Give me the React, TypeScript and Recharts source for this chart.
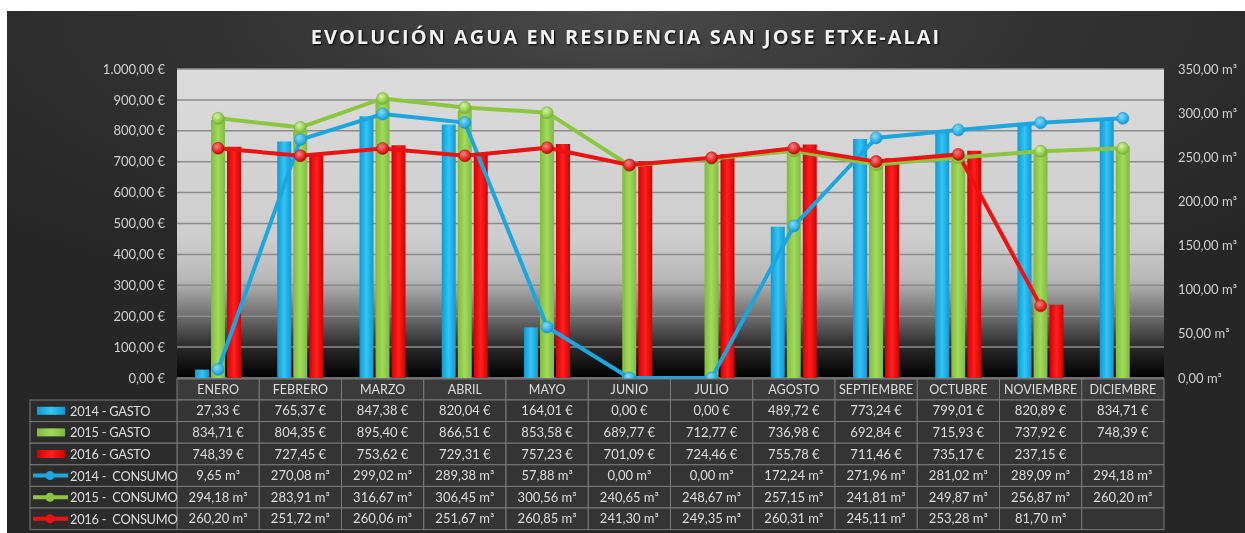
import { ComposedChart, Bar, Line, XAxis, YAxis, CartesianGrid } from 'recharts'

const months = ['ENERO', 'FEBRERO', 'MARZO', 'ABRIL', 'MAYO', 'JUNIO', 'JULIO', 'AGOSTO', 'SEPTIEMBRE', 'OCTUBRE', 'NOVIEMBRE', 'DICIEMBRE']
const gasto2014 = [27.33, 765.37, 847.38, 820.04, 164.01, 0, 0, 489.72, 773.24, 799.01, 820.89, 834.71]
const gasto2015 = [834.71, 804.35, 895.4, 866.51, 853.58, 689.77, 712.77, 736.98, 692.84, 715.93, 737.92, 748.39]
const gasto2016 = [748.39, 727.45, 753.62, 729.31, 757.23, 701.09, 724.46, 755.78, 711.46, 735.17, 237.15, null]
const consumo2014 = [9.65, 270.08, 299.02, 289.38, 57.88, 0, 0, 172.24, 271.96, 281.02, 289.09, 294.18]
const consumo2015 = [294.18, 283.91, 316.67, 306.45, 300.56, 240.65, 248.67, 257.15, 241.81, 249.87, 256.87, 260.2]
const consumo2016 = [260.2, 251.72, 260.06, 251.67, 260.85, 241.3, 249.35, 260.31, 245.11, 253.28, 81.7, null]
const leftTicks = [0, 100, 200, 300, 400, 500, 600, 700, 800, 900, 1000]
const rightTicks = [0, 50, 100, 150, 200, 250, 300, 350]

const data = months.map((m, i) => ({
  month: m,
  g14: gasto2014[i], g15: gasto2015[i], g16: gasto2016[i],
  c14: consumo2014[i], c15: consumo2015[i], c16: consumo2016[i],
}))

// table rows, in the order shown under the chart
const rows = [
  { label: '2014 - GASTO', key: 'g14', color: '#1cb2ec', kind: 'bar', unit: '€' },
  { label: '2015 - GASTO', key: 'g15', color: '#92d050', kind: 'bar', unit: '€' },
  { label: '2016 - GASTO', key: 'g16', color: '#ff0000', kind: 'bar', unit: '€' },
  { label: '2014 -  CONSUMO', key: 'c14', color: '#1ba6df', kind: 'line', unit: 'm³' },
  { label: '2015 -  CONSUMO', key: 'c15', color: '#8cc63f', kind: 'line', unit: 'm³' },
  { label: '2016 -  CONSUMO', key: 'c16', color: '#ee1111', kind: 'line', unit: 'm³' },
]

function fmt(v: number) {
  const [i, d] = v.toFixed(2).split('.')
  return `${i.replace(/\B(?=(\d{3})+(?!\d))/g, '.')},${d}`
}

const W = 1238
const H = 522
const LEFT = 170
const RIGHT = 81
const TOP = 58
const PLOT_BOTTOM = 367
const COL_W = (W - LEFT - RIGHT) / 12
const HEAD_H = 21
const ROW_H = 21.6
const FONT = 'Lato, "Open Sans", sans-serif'
const TXT = '#dedede'
const BORDER = '#7a7a7a'

function TableColumn(props: any) {
  const { x, payload, index } = props
  const left = x - COL_W / 2
  const d = data[index]
  return (
    <g fontFamily={FONT}>
      <rect x={left} y={PLOT_BOTTOM + 1} width={COL_W} height={HEAD_H} fill="#3b3b3b" stroke={BORDER} strokeWidth={1} />
      <text x={x} y={PLOT_BOTTOM + 1 + HEAD_H / 2 + 4.5} textAnchor="middle" fill={TXT} fontSize={12.5}>{payload.value}</text>
      {rows.map((r, ri) => {
        const y = PLOT_BOTTOM + 1 + HEAD_H + ri * ROW_H
        const v = (d as any)[r.key]
        return (
          <g key={r.key}>
            <rect x={left} y={y} width={COL_W} height={ROW_H} fill="#343434" stroke={BORDER} strokeWidth={1} />
            {v != null && (
              <text x={x} y={y + ROW_H / 2 + 4.5} textAnchor="middle" fill={TXT} fontSize={13}>{`${fmt(v)} ${r.unit}`}</text>
            )}
          </g>
        )
      })}
      {index === 0 && rows.map((r, ri) => {
        const y = PLOT_BOTTOM + 1 + HEAD_H + ri * ROW_H
        const cy = y + ROW_H / 2
        return (
          <g key={'lg' + r.key}>
            <rect x={23} y={y} width={LEFT - 23} height={ROW_H} fill="#2c2c2c" stroke={BORDER} strokeWidth={1} />
            {r.kind === 'bar' ? (
              <rect x={30} y={cy - 4} width={28} height={8} fill={`url(#bar-${r.key})`} />
            ) : (
              <g>
                <line x1={26} x2={61} y1={cy} y2={cy} stroke={r.color} strokeWidth={4} />
                <circle cx={43} cy={cy} r={4.5} fill={r.color} />
              </g>
            )}
            <text x={63} y={cy + 5} fill={TXT} fontSize={12.8} letterSpacing={-0.25} style={{ whiteSpace: 'pre' }}>{r.label}</text>
          </g>
        )
      })}
    </g>
  )
}

function makeDot(color: string, id: string) {
  return (p: any) => {
    if (p.value == null || p.cy == null) return <g key={p.index} />
    return (
      <g key={p.index}>
        <circle cx={p.cx} cy={p.cy} r={6} fill={`url(#dot-${id})`} stroke={color} strokeWidth={0.5} />
      </g>
    )
  }
}

function barGrad(id: string, edge: string, mid: string) {
  return (
    <linearGradient id={id} x1="0" y1="0" x2="1" y2="0">
      <stop offset="0%" stopColor={edge} />
      <stop offset="50%" stopColor={mid} />
      <stop offset="100%" stopColor={edge} />
    </linearGradient>
  )
}

function dotGrad(id: string, light: string, dark: string) {
  return (
    <radialGradient id={id} cx="0.4" cy="0.35" r="0.65">
      <stop offset="0%" stopColor={light} />
      <stop offset="100%" stopColor={dark} />
    </radialGradient>
  )
}

export default function App() {
  return (
    <div
      style={{
        position: 'fixed', left: 7, top: 11, width: W, height: H, overflow: 'hidden',
        background: 'radial-gradient(ellipse 70% 60% at 50% 0%, #4a4a4a 0%, #333 45%, #262626 100%)',
      }}
    >
      <div
        style={{
          position: 'absolute', left: 0, top: 12, width: W, textAlign: 'center',
          fontFamily: '"Open Sans", sans-serif', fontWeight: 700, fontSize: 20, letterSpacing: 2,
          color: '#f2f2f2', textShadow: '1px 1px 2px #000',
        }}
      >
        EVOLUCIÓN AGUA EN RESIDENCIA SAN JOSE ETXE-ALAI
      </div>
      <div style={{ position: 'absolute', left: 0, top: 0 }}>
        <ComposedChart
          width={W}
          height={H}
          data={data}
          margin={{ top: TOP, right: 0, left: 0, bottom: H - PLOT_BOTTOM - HEAD_H }}
          barSize={14}
          barGap={2}
        >
          <defs>
            <linearGradient id="plotBg" x1="0" y1="0" x2="0" y2="1">
              <stop offset="0%" stopColor="#dcdcdc" />
              <stop offset="55%" stopColor="#cdcdcd" />
              <stop offset="68%" stopColor="#b8b8b8" />
              <stop offset="80%" stopColor="#6e6e6e" />
              <stop offset="90%" stopColor="#2a2a2a" />
              <stop offset="100%" stopColor="#000" />
            </linearGradient>
            {barGrad('bar-g14', '#0f9ad3', '#35c3f4')}
            {barGrad('bar-g15', '#7fbb3c', '#a2da5e')}
            {barGrad('bar-g16', '#d40000', '#ff2020')}
            {dotGrad('dot-c14', '#7fdcff', '#1299d6')}
            {dotGrad('dot-c15', '#d4f59a', '#78b534')}
            {dotGrad('dot-c16', '#ff8080', '#d00000')}
          </defs>
          <CartesianGrid yAxisId="left" vertical={false} stroke="#8c8c8c" strokeWidth={1.5} fill="url(#plotBg)" fillOpacity={1} />
          <XAxis
            dataKey="month"
            interval={0}
            axisLine={false}
            tickLine={false}
            height={HEAD_H}
            tick={TableColumn}
          />
          <YAxis
            yAxisId="left"
            domain={[0, 1000]}
            ticks={leftTicks}
            width={LEFT}
            axisLine={false}
            tickLine={false}
            tickSize={6}
            tickMargin={6}
            tickFormatter={v => `${fmt(v)} €`}
            tick={{ fill: '#d0d0d0', fontSize: 13, fontFamily: FONT }}
          />
          <YAxis
            yAxisId="right"
            orientation="right"
            domain={[0, 350]}
            ticks={rightTicks}
            width={RIGHT}
            axisLine={false}
            tickLine={false}
            tickSize={6}
            tickMargin={8}
            tickFormatter={v => `${fmt(v)} m³`}
            tick={{ fill: '#d0d0d0', fontSize: 13, fontFamily: FONT, textAnchor: 'start' }}
          />
          <Bar yAxisId="left" dataKey="g14" fill="url(#bar-g14)" isAnimationActive={false} />
          <Bar yAxisId="left" dataKey="g15" fill="url(#bar-g15)" isAnimationActive={false} />
          <Bar yAxisId="left" dataKey="g16" fill="url(#bar-g16)" isAnimationActive={false} />
          <Line yAxisId="right" dataKey="c14" stroke="#1ba6df" strokeWidth={4} dot={makeDot('#0e8fc4', 'c14')} activeDot={false} isAnimationActive={false} />
          <Line yAxisId="right" dataKey="c15" stroke="#8cc63f" strokeWidth={4} dot={makeDot('#6aa52a', 'c15')} activeDot={false} isAnimationActive={false} />
          <Line yAxisId="right" dataKey="c16" stroke="#ee1111" strokeWidth={4} dot={makeDot('#b00000', 'c16')} activeDot={false} isAnimationActive={false} />
        </ComposedChart>
      </div>
    </div>
  )
}
